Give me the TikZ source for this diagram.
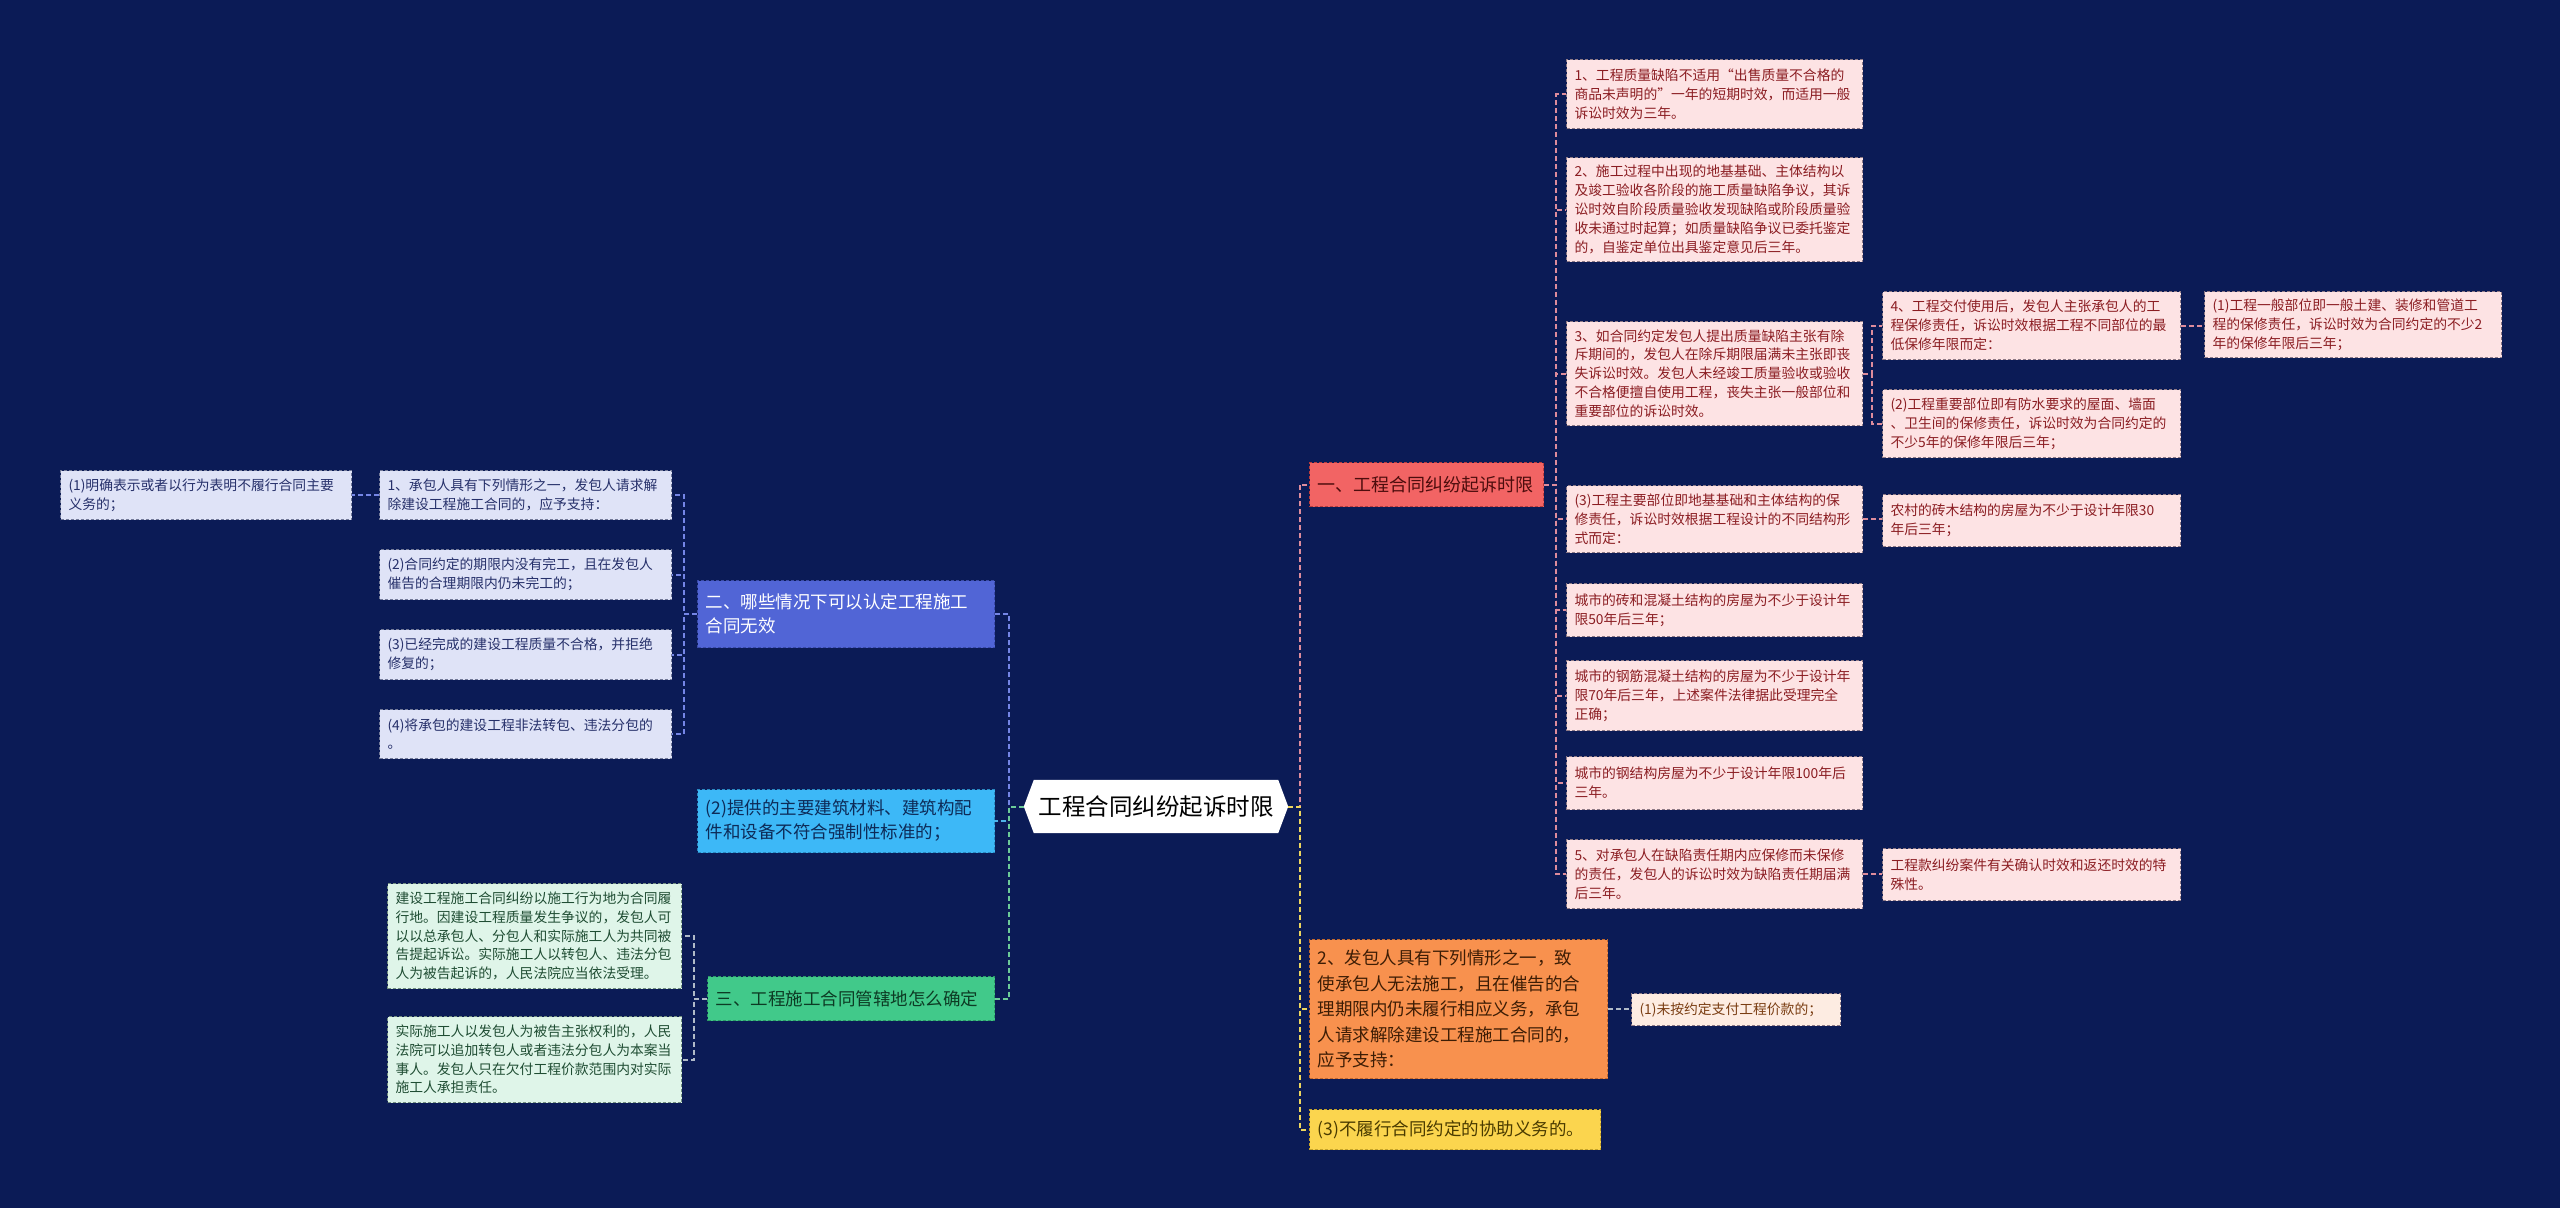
\documentclass[tikz,border=0pt]{standalone}
\usepackage{fontspec}
\setmainfont{Noto Sans CJK SC}
\usetikzlibrary{calc,backgrounds}
\definecolor{bgc}{HTML}{0B1B56}
\definecolor{pinkfill}{HTML}{FDE3E4}
\definecolor{pinkdraw}{HTML}{8E7A86}
\definecolor{pinktext}{HTML}{8B1D22}
\definecolor{redfill}{HTML}{F26464}
\definecolor{reddraw}{HTML}{B83C3C}
\definecolor{redtext}{HTML}{4D0D0D}
\definecolor{orfill}{HTML}{F8914E}
\definecolor{ordraw}{HTML}{C0682C}
\definecolor{ortext}{HTML}{3D1D05}
\definecolor{orcfill}{HTML}{FDECE2}
\definecolor{orctext}{HTML}{7A3D12}
\definecolor{yefill}{HTML}{FBD54E}
\definecolor{yedraw}{HTML}{C4A22A}
\definecolor{yetext}{HTML}{4A3B00}
\definecolor{blfill}{HTML}{5165D6}
\definecolor{bldraw}{HTML}{3A4AA8}
\definecolor{blcfill}{HTML}{DFE3F7}
\definecolor{blcdraw}{HTML}{737A98}
\definecolor{blctext}{HTML}{26306A}
\definecolor{cyfill}{HTML}{3DB8F7}
\definecolor{cydraw}{HTML}{2A88C0}
\definecolor{cytext}{HTML}{0D2B58}
\definecolor{grfill}{HTML}{41C98A}
\definecolor{grdraw}{HTML}{2C9A66}
\definecolor{grtext}{HTML}{0D3B24}
\definecolor{grcfill}{HTML}{DFF5E9}
\definecolor{grcdraw}{HTML}{73907F}
\definecolor{grctext}{HTML}{1F4D33}
\definecolor{lpink}{HTML}{DE8C9C}
\definecolor{lyel}{HTML}{EED65E}
\definecolor{lblue}{HTML}{7586E6}
\definecolor{lcyan}{HTML}{4FB3E8}
\definecolor{lgreen}{HTML}{6CCB98}
\definecolor{lgrey}{HTML}{B0BAC8}
\tikzset{
  box/.style={draw, dash pattern=on 3pt off 2pt, line width=1pt, anchor=north west,
    inner xsep=8pt, inner ysep=3pt, align=left},
  small/.style={box, font=\fontsize{13.8}{18.8}\selectfont},
  mid/.style={box, font=\fontsize{17.5}{24}\selectfont},
  pinkbox/.style={small, fill=pinkfill, draw=pinkdraw, text=pinktext},
  bluecbox/.style={small, fill=blcfill, draw=blcdraw, text=blctext},
  greencbox/.style={small, fill=grcfill, draw=grcdraw, text=grctext},
  conn/.style={line width=2pt, dash pattern=on 5pt off 3pt},
}
\begin{document}
\begin{tikzpicture}[x=1pt,y=-1pt]
\begin{pgfonlayer}{background}
\fill[bgc] (0,0) rectangle (2560,1208);
\end{pgfonlayer}
\useasboundingbox (0,0) rectangle (2560,1208);

% root
\node[font=\fontsize{23.5}{28}\selectfont, text=black, minimum width=244pt, minimum height=53pt, inner sep=0pt] (root) at (1156,806.5) {工程合同纠纷起诉时限};
\coordinate (rootR) at ($(root.east)+(10,0)$);
\coordinate (rootL) at ($(root.west)+(-10,0)$);
\begin{pgfonlayer}{background}
\fill[white] (root.north west) -- (root.north east) -- (rootR) -- (root.south east) -- (root.south west) -- (rootL) -- cycle;
\end{pgfonlayer}

% ===== right side =====
\node[box, font=\fontsize{18}{22}\selectfont, fill=redfill, draw=reddraw, text=redtext, text width=218pt, minimum height=44pt] (b1) at (1309,462) {一、工程合同纠纷起诉时限};

\node[pinkbox, text width=280pt, minimum height=69pt] (c1) at (1566,59) {1、工程质量缺陷不适用“出售质量不合格的\\商品未声明的”一年的短期时效，而适用一般\\诉讼时效为三年。};
\node[pinkbox, text width=280pt, minimum height=104pt] (c2) at (1566,157) {2、施工过程中出现的地基基础、主体结构以\\及竣工验收各阶段的施工质量缺陷争议，其诉\\讼时效自阶段质量验收发现缺陷或阶段质量验\\收未通过时起算；如质量缺陷争议已委托鉴定\\的，自鉴定单位出具鉴定意见后三年。};
\node[pinkbox, text width=280pt, minimum height=104pt] (c3) at (1566,321) {3、如合同约定发包人提出质量缺陷主张有除\\斥期间的，发包人在除斥期限届满未主张即丧\\失诉讼时效。发包人未经竣工质量验收或验收\\不合格便擅自使用工程，丧失主张一般部位和\\重要部位的诉讼时效。};
\node[pinkbox, text width=280pt, minimum height=67pt] (c4) at (1566,485) {(3)工程主要部位即地基基础和主体结构的保\\修责任，诉讼时效根据工程设计的不同结构形\\式而定：};
\node[pinkbox, text width=280pt, minimum height=53pt] (c5) at (1566,583) {城市的砖和混凝土结构的房屋为不少于设计年\\限50年后三年；};
\node[pinkbox, text width=280pt, minimum height=70pt] (c6) at (1566,660) {城市的钢筋混凝土结构的房屋为不少于设计年\\限70年后三年，上述案件法律据此受理完全\\正确；};
\node[pinkbox, text width=280pt, minimum height=53pt] (c7) at (1566,756) {城市的钢结构房屋为不少于设计年限100年后\\三年。};
\node[pinkbox, text width=280pt, minimum height=69pt] (c8) at (1566,839) {5、对承包人在缺陷责任期内应保修而未保修\\的责任，发包人的诉讼时效为缺陷责任期届满\\后三年。};

\node[pinkbox, text width=282pt, minimum height=68pt] (c3a) at (1882,291) {4、工程交付使用后，发包人主张承包人的工\\程保修责任，诉讼时效根据工程不同部位的最\\低保修年限而定：};
\node[pinkbox, text width=282pt, minimum height=68pt] (c3b) at (1882,389) {(2)工程重要部位即有防水要求的屋面、墙面\\、卫生间的保修责任，诉讼时效为合同约定的\\不少5年的保修年限后三年；};
\node[pinkbox, text width=281pt, minimum height=66pt] (c3a1) at (2204,291) {(1)工程一般部位即一般土建、装修和管道工\\程的保修责任，诉讼时效为合同约定的不少2\\年的保修年限后三年；};
\node[pinkbox, text width=282pt, minimum height=52pt] (c4a) at (1882,494) {农村的砖木结构的房屋为不少于设计年限30\\年后三年；};
\node[pinkbox, text width=282pt, minimum height=52pt] (c8a) at (1882,848) {工程款纠纷案件有关确认时效和返还时效的特\\殊性。};

\node[mid, fill=orfill, draw=ordraw, text=ortext, text width=282pt, minimum height=139pt, font=\fontsize{17.5}{25.5}\selectfont] (orange) at (1309,939) {2、发包人具有下列情形之一，致\\使承包人无法施工，且在催告的合\\理期限内仍未履行相应义务，承包\\人请求解除建设工程施工合同的，\\应予支持：};
\node[small, fill=orcfill, draw=pinkdraw, text=orctext, text width=193pt, minimum height=32pt] (orc) at (1631,993) {(1)未按约定支付工程价款的；};
\node[mid, fill=yefill, draw=yedraw, text=yetext, text width=275pt, minimum height=40pt] (yellow) at (1309,1109) {(3)不履行合同约定的协助义务的。};

% ===== left side =====
\node[mid, fill=blfill, draw=bldraw, text=white, text width=281pt, minimum height=67pt] (blue) at (697,580) {二、哪些情况下可以认定工程施工\\合同无效};
\node[mid, fill=cyfill, draw=cydraw, text=cytext, text width=281pt, minimum height=63pt] (cyan) at (697,789) {(2)提供的主要建筑材料、建筑构配\\件和设备不符合强制性标准的；};
\node[mid, fill=grfill, draw=grdraw, text=grtext, text width=271pt, minimum height=44pt] (green) at (707,976) {三、工程施工合同管辖地怎么确定};

\node[bluecbox, text width=276pt, minimum height=49pt] (bl1) at (379,470) {1、承包人具有下列情形之一，发包人请求解\\除建设工程施工合同的，应予支持：};
\node[bluecbox, text width=276pt, minimum height=50pt] (bl2) at (379,549) {(2)合同约定的期限内没有完工，且在发包人\\催告的合理期限内仍未完工的；};
\node[bluecbox, text width=276pt, minimum height=50pt] (bl3) at (379,629) {(3)已经完成的建设工程质量不合格，并拒绝\\修复的；};
\node[bluecbox, text width=276pt, minimum height=49pt] (bl4) at (379,709) {(4)将承包的建设工程非法转包、违法分包的\\。};
\node[bluecbox, text width=275pt, minimum height=49pt] (bl1a) at (60,470) {(1)明确表示或者以行为表明不履行合同主要\\义务的；};

\node[greencbox, text width=278pt, minimum height=105pt] (gr1) at (387,883) {建设工程施工合同纠纷以施工行为地为合同履\\行地。因建设工程质量发生争议的，发包人可\\以以总承包人、分包人和实际施工人为共同被\\告提起诉讼。实际施工人以转包人、违法分包\\人为被告起诉的，人民法院应当依法受理。};
\node[greencbox, text width=278pt, minimum height=86pt] (gr2) at (387,1016) {实际施工人以发包人为被告主张权利的，人民\\法院可以追加转包人或者违法分包人为本案当\\事人。发包人只在欠付工程价款范围内对实际\\施工人承担责任。};

% ===== connectors =====
\coordinate (tR) at (1300,0);
\coordinate (v1) at (1556,0);
\coordinate (v3) at (1872,0);
\coordinate (tL) at (1009,0);
\coordinate (vB) at (684,0);
\coordinate (vG) at (694,0);

\draw[conn, lpink] (rootR) -- (tR |- rootR) |- (b1.west);
\draw[conn, lyel] (rootR) -- (tR |- rootR) |- (orange.west);
\draw[conn, lyel] (rootR) -- (tR |- rootR) |- (yellow.west);
\foreach \n in {c1,c2,c3,c4,c5,c6,c7,c8}
  \draw[conn, lpink] (b1.east) -- (v1 |- b1.east) |- (\n.west);
\draw[conn, lpink] (c3.east) -- (v3 |- c3.east) |- (c3a.west);
\draw[conn, lpink] (c3.east) -- (v3 |- c3.east) |- (c3b.west);
\draw[conn, lpink] (c3a.east) -- (c3a.east -| c3a1.west);
\draw[conn, lpink] (c4.east) -- (c4.east -| c4a.west);
\draw[conn, lpink] (c8.east) -- (c8.east -| c8a.west);
\draw[conn, lgrey] (orange.east) -- (orange.east -| orc.west);

\draw[conn, lblue] (rootL) -- (tL |- rootL) |- (blue.east);
\draw[conn, lcyan] (rootL) -- (tL |- rootL) |- (cyan.east);
\draw[conn, lgreen] (rootL) -- (tL |- rootL) |- (green.east);
\foreach \n in {bl1,bl2,bl3,bl4}
  \draw[conn, lblue] (blue.west) -- (vB |- blue.west) |- (\n.east);
\draw[conn, lblue] (bl1.west) -- (bl1.west -| bl1a.east);
\foreach \n in {gr1,gr2}
  \draw[conn, lgrey] (green.west) -- (vG |- green.west) |- (\n.east);
\end{tikzpicture}
\end{document}
